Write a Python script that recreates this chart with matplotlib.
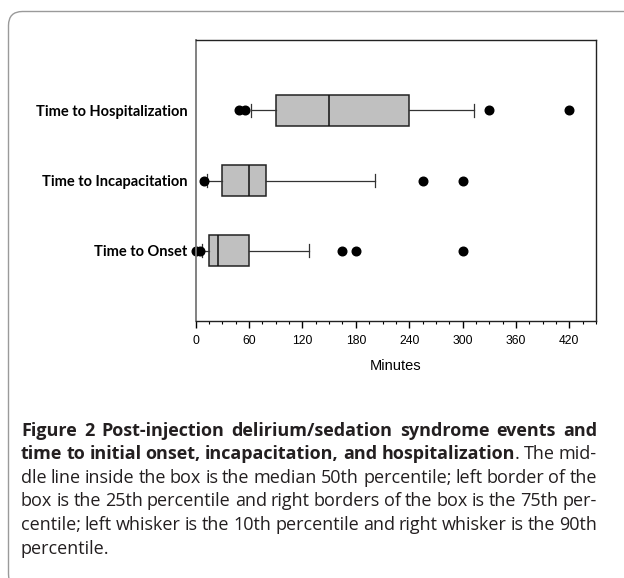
import matplotlib
matplotlib.use("Agg")
import matplotlib.pyplot as plt
from matplotlib.patches import FancyBboxPatch
from matplotlib.transforms import IdentityTransform
from matplotlib.ticker import MultipleLocator

# data (minutes)
categories = ["Time to Onset", "Time to Incapacitation", "Time to Hospitalization"]
p10 = [7, 13, 62]
q1 = [15, 30, 90]
median = [25, 60, 150]
q3 = [60, 79, 240]
p90 = [127, 201, 313]
outliers = [[0, 5, 165, 180, 300], [9, 256, 300], [49, 55, 330, 420]]
xticks = [0, 60, 120, 180, 240, 300, 360, 420]

caption_lines = [
    [[("Figure", True)], [("2", True)], [("Post-injection", True)], [("delirium/sedation", True)],
     [("syndrome", True)], [("events", True)], [("and", True)]],
    [[("time", True)], [("to", True)], [("initial", True)], [("onset,", True)],
     [("incapacitation,", True)], [("and", True)], [("hospitalization", True), (".", False)],
     [("The", False)], [("mid-", False)]],
    "dle line inside the box is the median 50th percentile; left border of the",
    "box is the 25th percentile and right borders of the box is the 75th per-",
    "centile; left whisker is the 10th percentile and right whisker is the 90th",
    "percentile.",
]

W, H = 624, 578
fig = plt.figure(figsize=(W / 100, H / 100), dpi=100)

# rounded frame around the figure panel
frame = FancyBboxPatch((8.5, -10), 640, H - 11.5 + 10, boxstyle="round,pad=0,rounding_size=14",
                       transform=IdentityTransform(), facecolor="none", edgecolor="#9a9a9a",
                       linewidth=1.0)
fig.patches.append(frame)

ax = fig.add_axes([195.7 / W, 1 - 321 / H, (596 - 195.7) / W, (321 - 40) / H])

stats = []
for i, cat in enumerate(categories):
    stats.append(dict(label=cat, whislo=p10[i], q1=q1[i], med=median[i], q3=q3[i],
                      whishi=p90[i], fliers=outliers[i]))

ax.bxp(stats, positions=[1, 2, 3], orientation="horizontal", widths=0.44, capwidths=0.19,
       patch_artist=True, showfliers=True,
       boxprops=dict(facecolor="#c0c0c0", edgecolor="#222222", linewidth=1.1),
       medianprops=dict(color="#111111", linewidth=1.1),
       whiskerprops=dict(color="#333333", linewidth=0.9),
       capprops=dict(color="#333333", linewidth=0.9),
       flierprops=dict(marker="o", markerfacecolor="black", markeredgecolor="black",
                       markersize=6.2, clip_on=False))

ax.set_xlim(0, 450)
ax.set_ylim(0, 4)
ax.set_xticks(xticks)
ax.xaxis.set_minor_locator(MultipleLocator(15))
ax.tick_params(axis="x", which="major", direction="out", length=5, width=1, labelsize=8.7, pad=5)
ax.tick_params(axis="x", which="minor", direction="out", length=2.5, width=0.8)
ax.tick_params(axis="y", length=0, pad=6)
for lab in ax.get_xticklabels():
    lab.set_fontfamily("Liberation Sans")
ax.set_yticks([1, 2, 3])
ax.set_yticklabels(categories, fontfamily="Lato", fontweight="bold", fontsize=10.5)
ax.set_xlabel("Minutes", fontfamily="Liberation Sans", fontsize=10.5, labelpad=9)
for side in ["top", "right", "bottom"]:
    ax.spines[side].set_color("#222222")
    ax.spines[side].set_linewidth(1)
ax.spines["left"].set_color("#777777")
ax.spines["left"].set_linewidth(1.3)

# caption with justified lines
renderer = fig.canvas.get_renderer()
cap_font = "Open Sans"
left_px, right_px = 21, 597
y0 = 435.5  # baseline of first line
line_gap = 23.6


def tokens_of(line):
    if isinstance(line, str):
        return [[(word, False)] for word in line.split()]
    return line


def measure(tokens, size):
    total = 0
    for tok in tokens:
        for text, bold in tok:
            t = fig.text(0, 0, text, fontsize=size, fontfamily=cap_font,
                         fontweight="bold" if bold else "normal")
            total += t.get_window_extent(renderer).width
            t.remove()
    return total + (len(tokens) - 1) * size * 100 / 72 * 0.22


# pick the caption size so the widest justified line just fits
ref = 12.0
ratio = min((right_px - left_px) / measure(tokens_of(l), ref) for l in caption_lines[:-1])
cap_size = ref * ratio


def draw_line(tokens, y_px, justify):
    items = []
    for tok in tokens:
        parts = []
        for text, bold in tok:
            t = fig.text(0, 1 - y_px / H, text, fontsize=cap_size, fontfamily=cap_font,
                         fontweight="bold" if bold else "normal", color="#231f20",
                         va="baseline")
            w = t.get_window_extent(renderer).width
            parts.append((t, w))
        items.append(parts)
    widths = [sum(w for _, w in parts) for parts in items]
    total = sum(widths)
    space_w = cap_size * 100 / 72 * 0.22
    if justify and len(items) > 1:
        space_w = (right_px - left_px - total) / (len(items) - 1)
    x = left_px
    for parts, w in zip(items, widths):
        xx = x
        for t, pw in parts:
            t.set_x(xx / W)
            xx += pw
        x += w + space_w


for i, line in enumerate(caption_lines):
    draw_line(tokens_of(line), y0 + i * line_gap, justify=(i < len(caption_lines) - 1))

fig.savefig("out.png", dpi=100)
